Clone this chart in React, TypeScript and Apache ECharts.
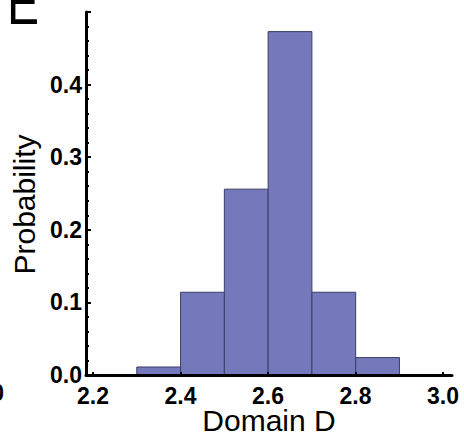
import React, { useEffect, useRef } from "react";
import * as echarts from "echarts";

const binStarts = [2.3, 2.4, 2.5, 2.6, 2.7, 2.8];
const binWidth = 0.1;
const probabilities = [0.011, 0.114, 0.256, 0.473, 0.114, 0.024];
const panelLetter = "E";
const xAxisName = "Domain D";
const yAxisName = "Probability";

const FONT = "'Liberation Sans', Arial, Helvetica, sans-serif";

export default function App() {
  const ref = useRef<HTMLDivElement>(null);
  useEffect(() => {
    const chart = echarts.init(ref.current!, null, { renderer: "svg" });
    const data = binStarts.map((s, i) => [s, +(s + binWidth).toFixed(2), probabilities[i]]);
    const tickLabel = {
      color: "#000",
      fontFamily: FONT,
      fontWeight: "bold" as const,
      fontSize: 23,
    };
    chart.setOption({
      animation: false,
      grid: [
        { left: 86, right: 12, top: 12, bottom: 63 },
        { left: 93, right: 21, top: 12, bottom: 63 },
      ],
      xAxis: [
        {
          gridIndex: 0,
          type: "value",
          min: 2.184,
          max: 3.02,
          z: 5,
          axisLine: { show: true, onZero: false, lineStyle: { color: "#000", width: 3 } },
          axisTick: { show: false },
          axisLabel: { show: false },
          splitLine: { show: false },
          name: xAxisName,
          nameLocation: "middle",
          nameGap: 30,
          nameTextStyle: { color: "#000", fontFamily: FONT, fontSize: 30 },
        },
        {
          gridIndex: 1,
          type: "value",
          min: 2.2,
          max: 3.0,
          interval: 0.2,
          z: 5,
          axisLine: { show: false, onZero: false },
          axisTick: { show: true, inside: true, length: 5, lineStyle: { color: "#000", width: 2 } },
          minorTick: { show: true, splitNumber: 4, length: 3, lineStyle: { color: "#000", width: 2 } },
          axisLabel: { ...tickLabel, margin: 7, formatter: (v: number) => v.toFixed(1) },
          splitLine: { show: false },
        },
      ],
      yAxis: [
        {
          gridIndex: 0,
          type: "value",
          min: 0,
          max: 0.5,
          interval: 0.1,
          z: 5,
          axisLine: { show: true, onZero: false, lineStyle: { color: "#000", width: 3 } },
          axisTick: { show: true, inside: true, length: 5, lineStyle: { color: "#000", width: 2 } },
          minorTick: { show: true, splitNumber: 5, length: 3, lineStyle: { color: "#000", width: 2 } },
          axisLabel: {
            ...tickLabel,
            margin: 4,
            formatter: (v: number) => (v > 0.45 ? "" : v.toFixed(1)),
          },
          splitLine: { show: false },
          name: yAxisName,
          nameLocation: "middle",
          nameGap: 42,
          nameTextStyle: { color: "#000", fontFamily: FONT, fontSize: 30, padding: [0, 22, 0, 0] },
        },
        { gridIndex: 1, type: "value", min: 0, max: 0.5, show: false },
      ],
      graphic: [
        {
          type: "text",
          x: 7,
          y: 25,
          scaleY: 1.3,
          style: {
            text: panelLetter,
            x: 0,
            y: -16.8,
            fill: "#000",
            font: `48px ${FONT}`,
            textVerticalAlign: "middle",
          },
        },
        {
          type: "text",
          x: 4,
          y: 393,
          style: {
            text: "3.0",
            fill: "#000",
            font: `bold 23px ${FONT}`,
            textAlign: "right",
            textVerticalAlign: "middle",
          },
        },
      ],
      series: [
        {
          type: "custom",
          xAxisIndex: 0,
          yAxisIndex: 0,
          z: 2,
          encode: { x: [0, 1], y: 2 },
          data,
          renderItem: (params: any, api: any) => {
            const p0 = api.coord([api.value(0), api.value(2)]);
            const p1 = api.coord([api.value(1), 0]);
            return {
              type: "rect",
              shape: { x: p0[0], y: p0[1], width: p1[0] - p0[0], height: p1[1] - p0[1] },
              style: { fill: "#7579bb", stroke: "#3b3d66", lineWidth: 1 },
            };
          },
        },
      ],
    });
    return () => chart.dispose();
  }, []);
  return (
    <div
      ref={ref}
      style={{ position: "absolute", left: 0, top: 0, width: 464, height: 440, background: "#fff" }}
    />
  );
}
